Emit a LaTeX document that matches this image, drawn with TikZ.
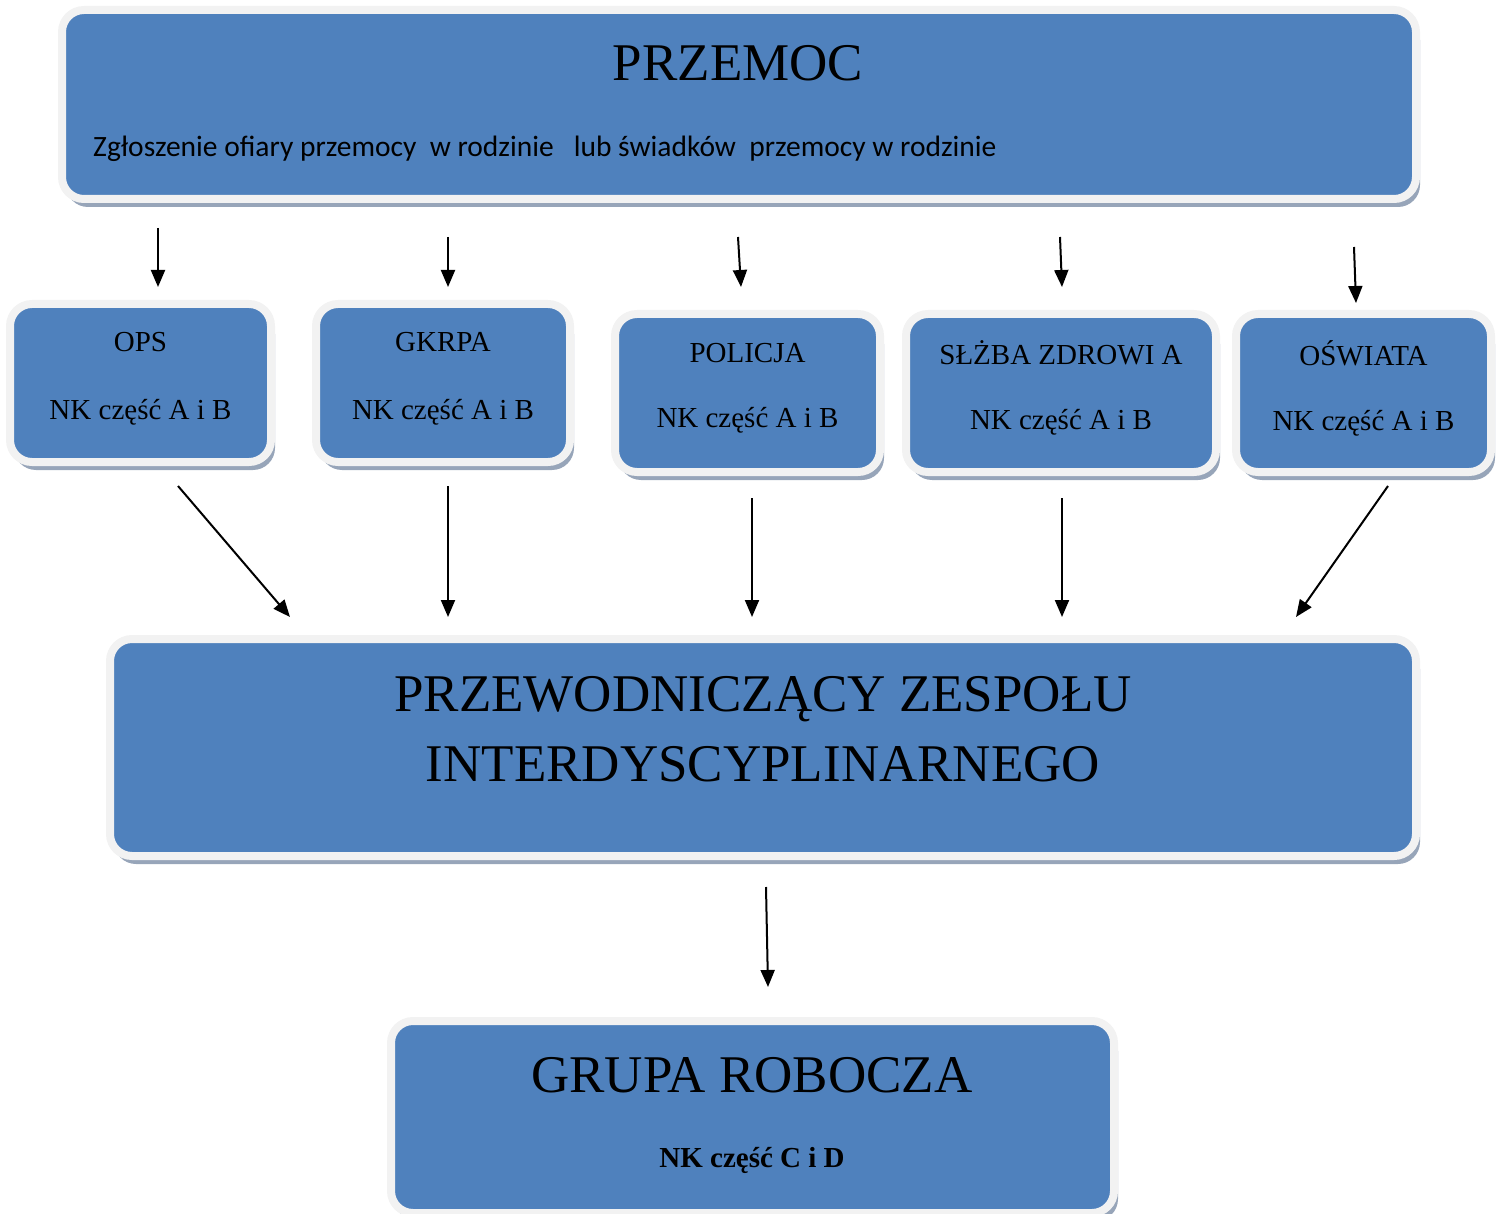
\documentclass[tikz,border=0pt]{standalone}
\usepackage{fontspec}
\setmainfont{Liberation Serif}
\newfontfamily\calibri{Carlito}
\usetikzlibrary{arrows.meta, positioning, shadows, calc}

\definecolor{boxblue}{HTML}{4F81BD}
\definecolor{boxrim}{HTML}{F2F2F2}
\definecolor{boxshade}{HTML}{97A5B9}

\begin{document}
\begin{tikzpicture}[
    x=1pt, y=-1pt,
    panel/.style={rectangle, rounded corners=22, fill=boxblue, draw=boxrim, line width=8, drop shadow={shadow xshift=4, shadow yshift=8, fill=boxshade, opacity=1}},
    unit/.style={panel, minimum height=158, align=center, font=\fontsize{29}{35}\selectfont},
    big/.style={font=\fontsize{53}{70}\selectfont, align=center},
    arr/.style={-{Triangle[length=17, width=14]}, line width=2}
    ]
    \useasboundingbox (0,0) rectangle (1507,1214);

    % Zgloszenie
    \node[panel, minimum width=1354, minimum height=189] (przemoc) at (739,104.5) {};
    \node[big, anchor=base] (przemoctxt) at (738,81) {PRZEMOC};
    \node[anchor=base west, inner sep=0, font=\calibri\fontsize{29.5}{34}\selectfont] (zgloszenie) at (93,157) {Zgłoszenie ofiary przemocy\ \ w rodzinie\ \ \ lub świadków\ \ przemocy w rodzinie};

    % Instytucje
    \node[unit, minimum width=261] (ops) at (140.5,383) {OPS\\[33pt]NK część A i B\\[-20pt]};
    \node[unit, minimum width=254] (gkrpa) at (443,383) {GKRPA\\[33pt]NK część A i B\\[-20pt]};
    \node[unit, minimum width=265] (policja) at (747.5,393) {POLICJA\\[30pt]NK część A i B\\[-20pt]};
    \node[unit, minimum width=310] (zdrowie) at (1061,393) {SŁŻBA ZDROWI A\\[30pt]NK część A i B\\[-20pt]};
    \node[unit, minimum width=255] (oswiata) at (1363.5,393) {OŚWIATA\\[30pt]NK część A i B\\[-20pt]};

    \draw[arr] ($(przemoc.south -| ops.north)+(17.5,25)$) -- ($(ops.north)+(17.5,-13)$);
    \draw[arr] ($(przemoc.south -| gkrpa.north)+(5,34)$) -- ($(gkrpa.north)+(5,-13)$);
    \draw[arr] ($(przemoc.south -| policja.north)+(-9.5,34)$) -- ($(policja.north)+(-6.5,-23)$);
    \draw[arr] ($(przemoc.south -| zdrowie.north)+(-1,34)$) -- ($(zdrowie.north)+(1,-23)$);
    \draw[arr] ($(przemoc.south -| oswiata.north)+(-9.5,44)$) -- ($(oswiata.north)+(-7.5,-7)$);

    % Przewodniczacy
    \node[panel, minimum width=1306, minimum height=217] (chair) at (763,747.5) {};
    \node[big] (chairtxt) at ([yshift=18]chair.center) {PRZEWODNICZĄCY ZESPOŁU\\INTERDYSCYPLINARNEGO};

    \draw[arr] ($(ops.south)+(37.5,20)$) -- ($(chair.north)+(-473,-18)$);
    \draw[arr] ($(gkrpa.south)+(5,20)$) -- ($(chair.north)+(-315,-18)$);
    \draw[arr] ($(policja.south)+(4.5,22)$) -- ($(chair.north)+(-11,-18)$);
    \draw[arr] ($(zdrowie.south)+(1,22)$) -- ($(chair.north)+(299,-18)$);
    \draw[arr] ($(oswiata.south)+(24.5,10)$) -- ($(chair.north)+(533,-18)$);

    % Grupa robocza
    \node[panel, minimum width=723, minimum height=192] (grupa) at (752.5,1117) {};
    \node[big, anchor=base] (grupatxt) at (752,1092) {GRUPA ROBOCZA};
    \node[anchor=base, font=\fontsize{29}{35}\selectfont\bfseries] (grupank) at (752,1167) {NK część C i D};

    \draw[arr] ($(chair.south)+(3,27)$) -- ($(grupa.north)+(15.5,-30)$);
\end{tikzpicture}
\end{document}
